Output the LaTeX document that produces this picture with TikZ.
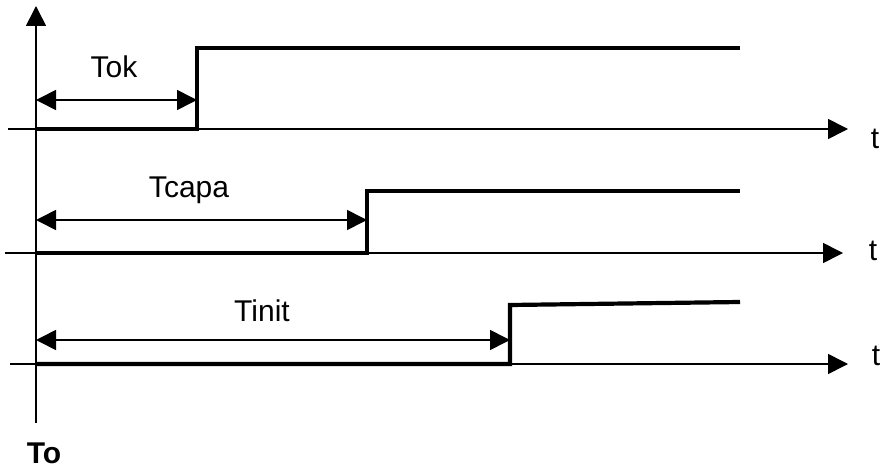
\documentclass[tikz,border=0pt]{standalone}
\usepackage{fontspec}
\setmainfont{Liberation Sans}
\usetikzlibrary{arrows.meta}
\begin{document}
\begin{tikzpicture}[x=1pt,y=-1pt,
  thin line/.style={line width=1.6pt},
  signal/.style={line width=4.2pt, line join=miter},
  axisarrow/.style={thin line,-{Triangle[length=20pt,width=20pt]}},
  dimarrow/.style={thin line,{Triangle[length=20pt,width=20pt]}-{Triangle[length=20pt,width=20pt]}},
  lbl/.style={inner sep=0pt, font=\fontsize{30}{33}\selectfont}]
\useasboundingbox (0,0) rectangle (882,468);
% vertical axis
\coordinate (vb) at (36,423);
\coordinate (vt) at (36,6);
\draw[axisarrow] (vb) -- (vt);
% row 1
\coordinate (a1) at (8,129); \coordinate (e1) at (848,129);
\draw[axisarrow] (a1) -- (e1);
\coordinate (s1) at (36,129); \coordinate (k1) at (197,129);
\coordinate (u1) at (197,48); \coordinate (f1) at (740,48);
\draw[signal] (s1) -- (k1) -- (u1) -- (f1);
\coordinate (d1a) at (36,100); \coordinate (d1b) at (197,100);
\draw[dimarrow] (d1a) -- (d1b);
\node[lbl] (tok) at (114,67) {Tok};
\node[lbl] (t1) at (875,139) {t};
% row 2
\coordinate (a2) at (5,253); \coordinate (e2) at (843,253);
\draw[axisarrow] (a2) -- (e2);
\coordinate (s2) at (36,253); \coordinate (k2) at (367,253);
\coordinate (u2) at (367,191); \coordinate (f2) at (740,191);
\draw[signal] (s2) -- (k2) -- (u2) -- (f2);
\coordinate (d2a) at (36,220); \coordinate (d2b) at (367,220);
\draw[dimarrow] (d2a) -- (d2b);
\node[lbl] (tcapa) at (189,190) {Tcapa};
\node[lbl] (t2) at (873,251) {t};
% row 3
\coordinate (a3) at (10,364); \coordinate (e3) at (848,364);
\draw[axisarrow] (a3) -- (e3);
\coordinate (s3) at (36,364); \coordinate (k3) at (510,364);
\coordinate (u3) at (510,305); \coordinate (f3) at (740,302);
\draw[signal] (s3) -- (k3) -- (u3) -- (f3);
\coordinate (d3a) at (36,340); \coordinate (d3b) at (510,340);
\draw[dimarrow] (d3a) -- (d3b);
\node[lbl] (tinit) at (262,311) {Tinit};
\node[lbl] (t3) at (876,356) {t};
% To
\node[lbl, font=\fontsize{30}{33}\selectfont\bfseries] (to) at (44,453) {To};
\end{tikzpicture}
\end{document}
